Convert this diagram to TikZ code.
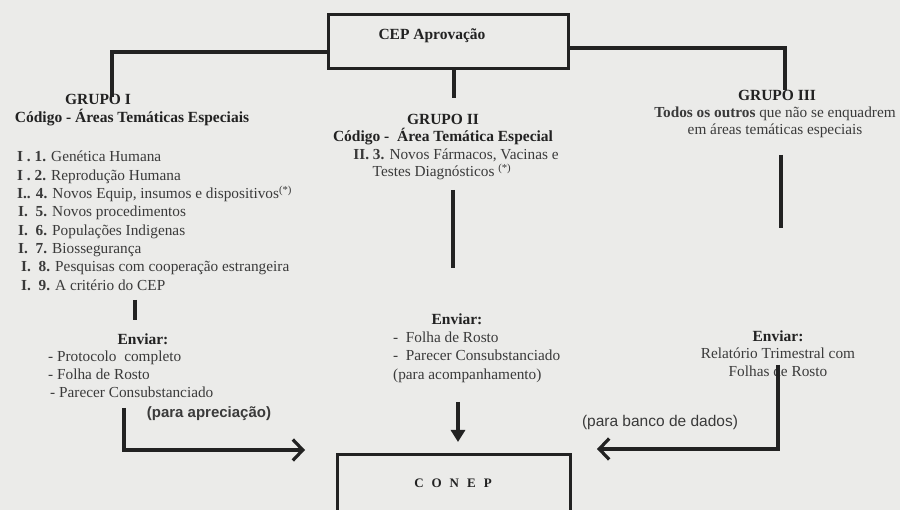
\documentclass[tikz,border=0pt]{standalone}
\usepackage{fontspec}
\setmainfont{Liberation Serif}
\newfontfamily\arialfont{Liberation Sans}
\usetikzlibrary{arrows.meta}
\definecolor{paper}{HTML}{EBEBE9}
\definecolor{inkgray}{HTML}{3A3A3A}
\definecolor{inkdark}{HTML}{222222}
\tikzset{txt/.style={inner sep=0pt, anchor=base, text=inkgray, font=\fontsize{15.3}{18.3}\selectfont},
 hdr/.style={inner sep=0pt, anchor=base, text=inkdark, font=\fontsize{15.5}{18}\selectfont\bfseries},
 sanstxt/.style={inner sep=0pt, anchor=base, text=inkgray, font=\arialfont\fontsize{15.5}{18}\selectfont},
 box/.style={draw=inkdark, line width=3pt, inner sep=0pt},
 link/.style={draw=inkdark, line width=3.8pt},
 arr/.style={link, -{Straight Barb[length=10pt,width=21pt,line width=3.2pt]}},
 downarr/.style={link, -{Triangle[length=12pt,width=14pt]}},
 }

\begin{document}
\begin{tikzpicture}[x=1pt, y=-1pt]
        \fill[paper] (0,0) rectangle (900,510);
        \useasboundingbox (0,0) rectangle (900,510);

        % boxes
        \node[box, minimum width=240pt, minimum height=54pt] (cep) at (448,42) {};
        \node[hdr] (ceptxt) at (432,40) {CEP Aprovação};
        \node[box, minimum width=233pt, minimum height=66pt] (conep) at (454,488) {};
        \node[hdr, font=\fontsize{13}{15}\selectfont\bfseries] (conetxt) at (453,488)
            {C\hspace{8pt}O\hspace{8pt}N\hspace{8pt}E\hspace{8pt}P};

        % grupo I
        \node[hdr] (gI) at (98,105) {GRUPO I};
        \node[hdr] (codI) at (132,123) {Código - Áreas Temáticas Especiais};
        \node[txt, anchor=base west] (i1) at (17,162) {\textbf{I . 1.} Genética Humana};
        \node[txt, anchor=base west] (i2) at (17,180.3) {\textbf{I . 2.} Reprodução Humana};
        \node[txt, anchor=base west] (i4) at (17,198.6) {\textbf{I.. 4.} Novos Equip, insumos e dispositivos\textsuperscript{(*)}};
        \node[txt, anchor=base west] (i5) at (18,216.9) {\textbf{I.\ \ 5.} Novos procedimentos};
        \node[txt, anchor=base west] (i6) at (18,235.2) {\textbf{I.\ \ 6.} Populações Indigenas};
        \node[txt, anchor=base west] (i7) at (18,253.5) {\textbf{I.\ \ 7.} Biossegurança};
        \node[txt, anchor=base west] (i8) at (21,271.8) {\textbf{I.\ \ 8.} Pesquisas com cooperação estrangeira};
        \node[txt, anchor=base west] (i9) at (21,290.1) {\textbf{I.\ \ 9.} A critério do CEP};
        \node[hdr] (envI) at (143,345) {Enviar:};
        \node[txt, anchor=base west] (envIa) at (48,362) {- Protocolo\ \ completo};
        \node[txt, anchor=base west] (envIb) at (48,380) {- Folha de Rosto};
        \node[txt, anchor=base west] (envIc) at (50,398) {- Parecer Consubstanciado};
        \node[sanstxt, font=\arialfont\fontsize{15}{18}\selectfont\bfseries] (aprec) at (209,418) {(para apreciação)};

        % grupo II
        \node[hdr] (gII) at (443,125) {GRUPO II};
        \node[hdr] (codII) at (443,142) {Código -\ \ Área Temática Especial};
        \node[txt] (ii3) at (456,160) {\textbf{II. 3.} Novos Fármacos, Vacinas e};
        \node[txt] (ii3b) at (442,177) {Testes Diagnósticos \textsuperscript{(*)}};
        \node[hdr] (envII) at (457,325) {Enviar:};
        \node[txt, anchor=base west] (envIIa) at (393,343) {-\ \ Folha de Rosto};
        \node[txt, anchor=base west] (envIIb) at (393,361) {-\ \ Parecer Consubstanciado};
        \node[txt, anchor=base west] (envIIc) at (393,380) {(para acompanhamento)};

        % grupo III
        \node[hdr] (gIII) at (777,101) {GRUPO III};
        \node[txt] (todos) at (775,118) {\textbf{Todos os outros} que não se enquadrem};
        \node[txt] (todosb) at (775,135) {em áreas temáticas especiais};
        \node[hdr] (envIII) at (778,342) {Enviar:};
        \node[txt] (envIIIa) at (778,359) {Relatório Trimestral com};
        \node[txt] (envIIIb) at (778,377) {Folhas de Rosto};
        \node[sanstxt] (banco) at (660,427) {(para banco de dados)};

        % connectors
        \coordinate (c1bend) at (112,52);
        \coordinate (c1end) at (112,97);
        \coordinate (c2end) at (454,98);
        \coordinate (c3bend) at (785,48);
        \coordinate (c3end) at (785,90);
        \draw[link] (cep.west |- c1bend) -- (c1bend) -- (c1end);
        \draw[link] (cep.south -| c2end) -- (c2end);
        \draw[link] (cep.east |- c3bend) -- (c3bend) -- (c3end);

        \coordinate (s1a) at (135,300);
        \coordinate (s1b) at (135,320);
        \draw[link] (s1a) -- (s1b);
        \coordinate (s2a) at (453,190);
        \coordinate (s2b) at (453,268);
        \draw[link] (s2a) -- (s2b);
        \coordinate (s3a) at (781,155);
        \coordinate (s3b) at (781,228);
        \draw[link] (s3a) -- (s3b);

        \coordinate (a1start) at (124,408);
        \coordinate (a1bend) at (124,450);
        \coordinate (a1tip) at (305,450);
        \draw[arr] (a1start) -- (a1bend) -- (a1tip);
        \coordinate (a2start) at (458,402);
        \coordinate (a2tip) at (458,442);
        \draw[downarr] (a2start) -- (a2tip);
        \coordinate (a3start) at (778,365);
        \coordinate (a3bend) at (778,449);
        \coordinate (a3tip) at (597,449);
        \draw[arr] (a3start) -- (a3bend) -- (a3tip);
\end{tikzpicture}
\end{document}
